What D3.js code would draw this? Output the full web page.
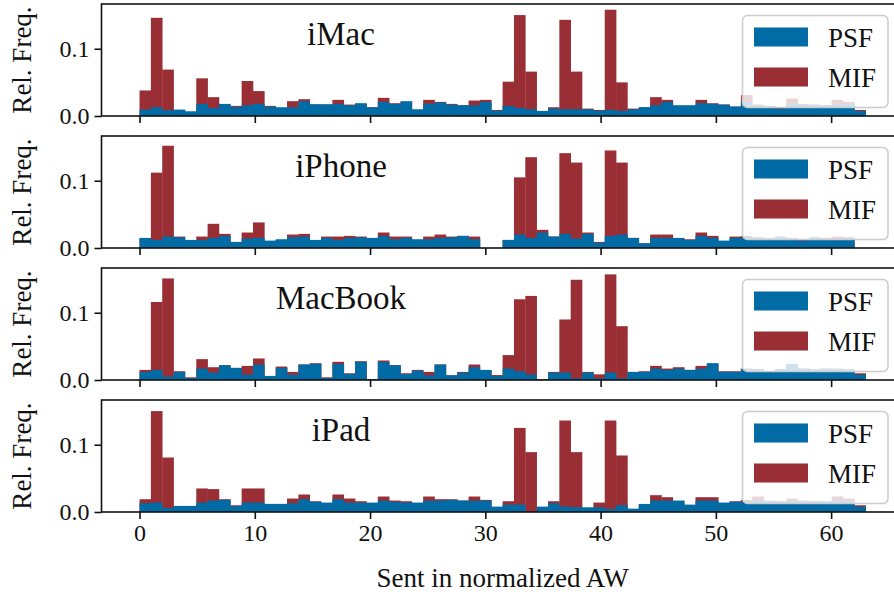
<!DOCTYPE html>
<html lang="en">
<head>
    <meta charset="utf-8">
    <script src="https://d3js.org/d3.v7.min.js"></script>
</head>
<style>
    body { margin: 0; background: #fff; }
    text { font-family: "Liberation Serif", "DejaVu Serif", serif; fill: #111; }
</style>
<body>
<script>
    const W = 894
    const H = 596

    // panel names, one histogram per device
    const devices = ["iMac", "iPhone", "MacBook", "iPad"]
    const seriesNames = ["PSF", "MIF"]
    const xTicks = [0, 10, 20, 30, 40, 50, 60]
    const yTicks = [0.0, 0.1]

    // 64 bins spread over [0, 63]
    const binWidth = 63 / 64

    // relative frequency per bin
    const psfIMac = [.0095,.013,.0085,.0095,.007,.018,.012,.018,.0134,.016,
        .018,.014,.013,.013,.022,.0175,.0174,.018,.016,.019,
        .013,.021,.018,.022,.010,.018,.020,.017,.016,.016,
        .021,.008,.015,.012,.010,.0075,.011,.010,.010,.010,
        .008,.009,.0075,.010,.013,.016,.021,.016,.016,.019,
        .018,.017,.014,.021,.016,.014,.011,.018,.017,.016,
        .016,.017,.018,.0075]
    const mifIMac = [.038,.146,.069,.009,.006,.056,.028,.017,.015,.052,
        .037,.015,.012,.022,.025,.017,.017,.024,.017,.018,
        .013,.027,.019,.021,.009,.024,.021,.018,.016,.023,
        .024,.009,.051,.150,.066,.0075,.013,.143,.066,.011,
        .009,.158,.050,.011,.013,.028,.024,.015,.015,.024,
        .019,.017,.014,.031,.017,.015,.013,.026,.018,.017,
        .016,.024,.021,.009]

    const psfIPhone = [.015,.012,.017,.016,.012,.012,.015,.018,.009,.014,
        .015,.011,.013,.016,.017,.012,.015,.012,.015,.016,
        .015,.018,.013,.015,.013,.013,.015,.016,.018,.013,
        0,0,.012,.020,.015,.023,.017,.021,.014,.021,
        .008,.018,.020,.015,.007,.015,.015,.015,.012,.018,
        .015,.011,.015,.016,.015,.015,.017,.013,.011,.016,
        .013,.013,.015,0]
    const mifIPhone = [.014,.112,.152,.017,.011,.017,.036,.021,.009,.023,
        .038,.010,.012,.020,.021,.011,.017,.017,.018,.017,
        .014,.023,.017,.017,.012,.017,.020,.017,.018,.017,
        0,0,.012,.105,.135,.027,.017,.141,.127,.023,
        .009,.145,.127,.015,.007,.020,.020,.014,.013,.023,
        .018,.010,.017,.018,.016,.015,.016,.015,.013,.015,
        .015,.017,.016,0]

    const psfMacBook = [.012,.015,.005,.012,.003,.017,.011,.022,.018,.008,
        .023,.006,.018,.008,.023,.024,.003,.024,.009,.027,
        .001,.027,.022,.009,.014,.007,.023,.007,.011,.019,
        .015,.006,.017,.013,.008,.001,.011,.011,.0025,.011,
        .0025,.011,.0025,.012,.012,.017,.015,.017,.015,.017,
        .025,.012,.012,.016,.016,.013,.016,.024,.017,.016,
        .017,.017,.016,.008]
    const mifMacBook = [.015,.116,.151,.013,.004,.031,.019,.022,.018,.021,
        .032,.006,.020,.012,.023,.025,.004,.027,.010,.028,
        .0015,.029,.022,.010,.015,.012,.023,.007,.012,.023,
        .014,.0074,.037,.120,.125,.001,.012,.090,.149,.012,
        .0084,.157,.080,.012,.013,.021,.017,.019,.015,.021,
        .024,.013,.013,.017,.016,.013,.016,.020,.017,.016,
        .017,.016,.016,.010]

    const psfIPad = [.013,.014,.006,.009,.009,.014,.017,.018,.009,.014,
        .014,.012,.012,.013,.019,.015,.014,.019,.014,.014,
        .014,.017,.015,.014,.014,.017,.017,.018,.017,.017,
        .017,.008,.011,.011,.001,.008,.013,.008,.007,.007,
        .007,.0045,.010,.005,.012,.017,.017,.017,.011,.017,
        .017,.014,.015,.016,.017,.016,.016,.016,.016,.016,
        .016,.017,.016,.008]
    const mifIPad = [.019,.150,.081,.009,.009,.035,.034,.019,.010,.035,
        .035,.012,.012,.020,.026,.016,.013,.026,.020,.016,
        .013,.023,.017,.016,.013,.023,.019,.019,.017,.023,
        .018,.007,.016,.125,.089,.007,.016,.136,.089,.006,
        .014,.136,.084,.004,.011,.025,.022,.016,.010,.022,
        .022,.013,.016,.018,.023,.017,.016,.020,.017,.016,
        .016,.023,.020,.010]

    const psfAll = [psfIMac, psfIPhone, psfMacBook, psfIPad]
    const mifAll = [mifIMac, mifIPhone, mifMacBook, mifIPad]

    const colPSF = "#006BA4"
    const colMIF = "#992E35"

    // layout
    const left = 101.5, right = 902
    const panelTop = [4, 136, 268, 400]
    const panelH = 112

    const svg = d3.select("body")
        .append("svg")
        .attr("width", W)
        .attr("height", H)

    const x = d3.scaleLinear()
        .domain([-3.3, 66.15])
        .range([left, right])

    const y = d3.scaleLinear()
        .domain([0, 0.1665])
        .range([panelH, 0])

    const bx0 = (d, i) => x(i * binWidth)
    const bw = (d, i) => x((i + 1) * binWidth) - x(i * binWidth) + 0.3

    devices.forEach((name, p) => {
        const g = svg.append("g")
            .attr("transform", `translate(0,${panelTop[p]})`)

        g.append("clipPath").attr("id", "clip" + p)
            .append("rect")
            .attr("x", left).attr("y", 0)
            .attr("width", right - left).attr("height", panelH)

        const bars = g.append("g").attr("clip-path", `url(#clip${p})`)

        // MIF first, PSF drawn over it
        bars.selectAll(".mif")
            .data(mifAll[p])
            .enter()
            .append("rect")
            .attr("x", bx0)
            .attr("width", bw)
            .attr("y", d => y(d))
            .attr("height", d => y(0) - y(d))
            .attr("fill", colMIF)

        bars.selectAll(".psf")
            .data(psfAll[p])
            .enter()
            .append("rect")
            .attr("x", bx0)
            .attr("width", bw)
            .attr("y", d => y(d))
            .attr("height", d => y(0) - y(d))
            .attr("fill", colPSF)

        // title
        g.append("text")
            .attr("x", 341)
            .attr("y", 41)
            .attr("text-anchor", "middle")
            .style("font-size", "33px")
            .text(name)

        // legend
        const lg = g.append("g").attr("transform", "translate(742.5,11.5)")
        lg.append("rect")
            .attr("width", 145.5).attr("height", 92)
            .attr("rx", 5)
            .attr("fill", "rgba(255,255,255,0.8)")
            .attr("stroke", "#cccccc")
            .attr("stroke-width", 1.5)
        seriesNames.forEach((s, k) => {
            lg.append("rect")
                .attr("x", 11.5).attr("y", 12 + k * 40)
                .attr("width", 54).attr("height", 19)
                .attr("fill", s === "PSF" ? colPSF : colMIF)
            lg.append("text")
                .attr("x", 85.5).attr("y", 31.5 + k * 40)
                .style("font-size", "27px")
                .text(s)
        })

        // frame
        g.append("rect")
            .attr("x", left).attr("y", 0)
            .attr("width", right - left).attr("height", panelH)
            .attr("fill", "none")
            .attr("stroke", "#111")
            .attr("stroke-width", 1.6)

        // x ticks on every panel, labels on last only
        const xAxis = d3.axisBottom(x)
            .tickValues(xTicks)
            .tickSize(7)
            .tickPadding(5)
            .tickFormat(p === 3 ? d3.format("d") : () => "")
        const xa = g.append("g")
            .attr("transform", `translate(0,${panelH})`)
            .call(xAxis)
        xa.select(".domain").remove()
        xa.selectAll("line").attr("stroke", "#111").attr("stroke-width", 1.6)
        xa.selectAll("text")
            .style("font-family", "Liberation Serif, serif")
            .style("font-size", "24px")
            .attr("fill", "#111")

        const yAxis = d3.axisLeft(y)
            .tickValues(yTicks)
            .tickSize(7)
            .tickPadding(5)
            .tickFormat(d3.format(".1f"))
        const ya = g.append("g")
            .attr("transform", `translate(${left},0)`)
            .call(yAxis)
        ya.select(".domain").remove()
        ya.selectAll("line").attr("stroke", "#111").attr("stroke-width", 1.6)
        ya.selectAll("text")
            .style("font-family", "Liberation Serif, serif")
            .style("font-size", "24px")
            .attr("fill", "#111")

        // y label
        g.append("text")
            .attr("transform", `translate(31,${panelH / 2}) rotate(-90)`)
            .attr("text-anchor", "middle")
            .style("font-size", "27px")
            .text("Rel. Freq.")
    })

    svg.append("text")
        .attr("x", (x(0) + x(63)) / 2)
        .attr("y", 587)
        .attr("text-anchor", "middle")
        .style("font-size", "27px")
        .text("Sent in normalized AW")
</script>
</body>
</html>
